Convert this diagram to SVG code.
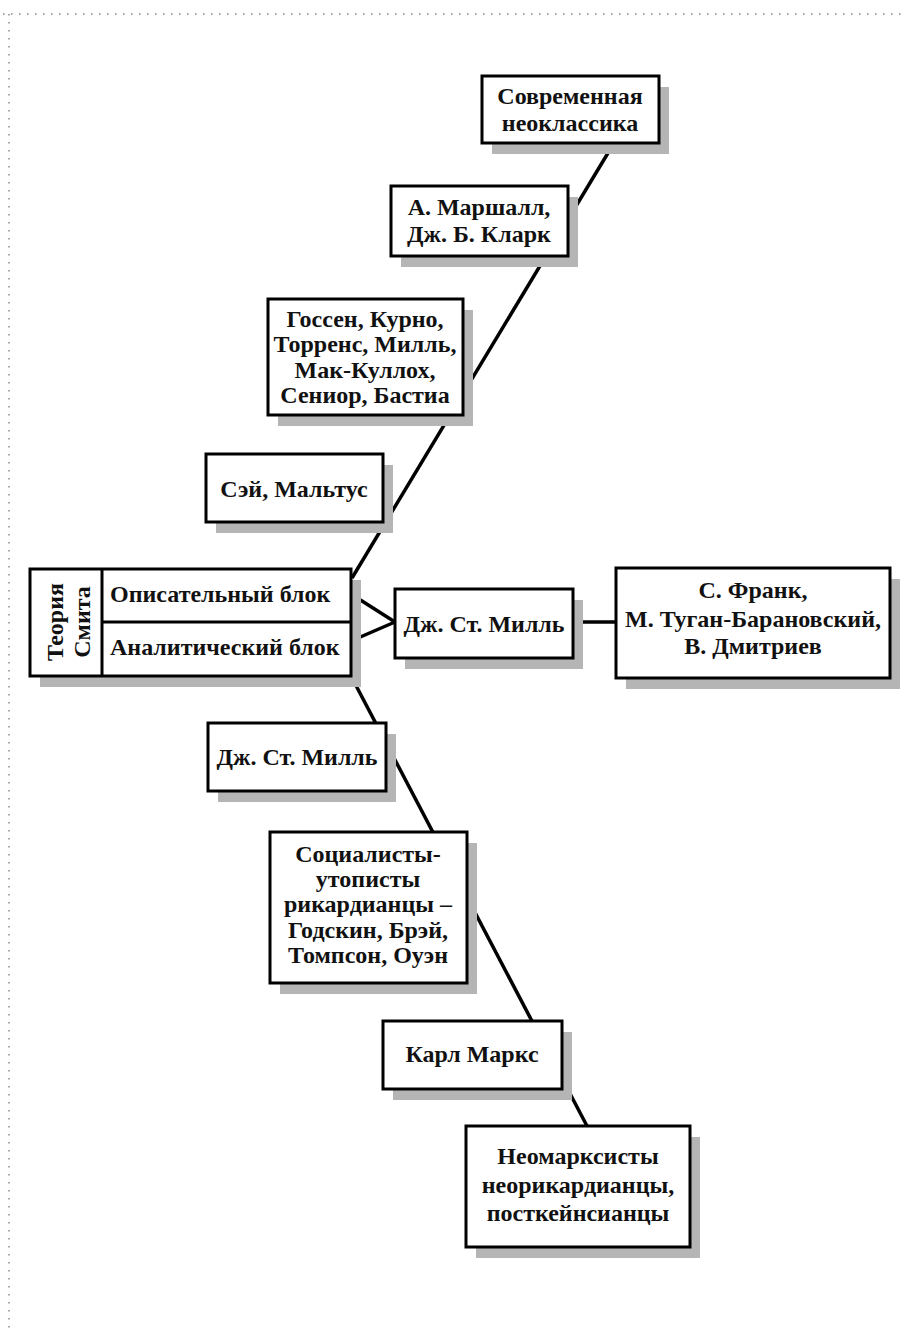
<svg xmlns="http://www.w3.org/2000/svg" width="904" height="1334" viewBox="0 0 904 1334">
<style>
.box{fill:#fff;stroke:#000;stroke-width:3}
.sh{fill:#b5b5b5}
.t{font-family:"Liberation Serif","DejaVu Serif",serif;font-weight:bold;font-size:24px;fill:#111;text-anchor:middle}
.tl{text-anchor:start}
.ln{stroke:#000;stroke-width:3.5;fill:none}
.dot{stroke:#888;stroke-width:1.5;stroke-dasharray:1.5 6.5;fill:none}
</style>
<rect width="904" height="1334" fill="#fff"/>
<g id="frame">
<line class="dot" x1="3" y1="14" x2="904" y2="14"/>
<line class="dot" x1="9" y1="14" x2="9" y2="1334"/>
</g>
<g id="connectors">
<line class="ln" x1="352" y1="578" x2="614" y2="143"/>
<line class="ln" x1="351" y1="676" x2="587" y2="1126"/>
<line class="ln" x1="351" y1="594" x2="395" y2="622"/>
<line class="ln" x1="351" y1="641" x2="395" y2="622"/>
<line class="ln" x1="573" y1="622" x2="616" y2="622"/>
</g>
<g id="n1">
<rect class="sh" x="492" y="87" width="177" height="67"/>
<rect class="box" x="482" y="76" width="177" height="67"/>
<text class="t" x="570" y="104">Современная</text>
<text class="t" x="570" y="131">неоклассика</text>
</g>
<g id="n2">
<rect class="sh" x="401" y="197" width="177" height="70"/>
<rect class="box" x="391" y="186" width="177" height="70"/>
<text class="t" x="479" y="215">А. Маршалл,</text>
<text class="t" x="479" y="242">Дж. Б. Кларк</text>
</g>
<g id="n3">
<rect class="sh" x="278" y="310" width="195" height="116"/>
<rect class="box" x="268" y="299" width="195" height="116"/>
<text class="t" x="365" y="327">Госсен, Курно,</text>
<text class="t" x="365" y="352">Торренс, Милль,</text>
<text class="t" x="365" y="378">Мак-Куллох,</text>
<text class="t" x="365" y="403">Сениор, Бастиа</text>
</g>
<g id="n4">
<rect class="sh" x="216" y="465" width="177" height="68"/>
<rect class="box" x="206" y="454" width="177" height="68"/>
<text class="t" x="294" y="497">Сэй, Мальтус</text>
</g>
<g id="n5">
<rect class="sh" x="40" y="580" width="321" height="107"/>
<rect class="box" x="30" y="569" width="321" height="107"/>
<line class="box" x1="102" y1="569" x2="102" y2="676"/>
<line class="box" x1="102" y1="622" x2="351" y2="622"/>
<text class="t" transform="translate(63,622) rotate(-90)">Теория</text>
<text class="t" transform="translate(90,622) rotate(-90)">Смита</text>
<text class="t tl" x="110" y="602">Описательный блок</text>
<text class="t tl" x="110" y="655">Аналитический блок</text>
</g>
<g id="n6">
<rect class="sh" x="405" y="600" width="178" height="69"/>
<rect class="box" x="395" y="589" width="178" height="69"/>
<text class="t" x="484" y="632">Дж. Ст. Милль</text>
</g>
<g id="n7">
<rect class="sh" x="626" y="579" width="274" height="110"/>
<rect class="box" x="616" y="568" width="274" height="110"/>
<text class="t" x="753" y="598">С. Франк,</text>
<text class="t" x="753" y="627">М. Туган-Барановский,</text>
<text class="t" x="753" y="654">В. Дмитриев</text>
</g>
<g id="n8">
<rect class="sh" x="218" y="734" width="178" height="68"/>
<rect class="box" x="208" y="723" width="178" height="68"/>
<text class="t" x="297" y="765">Дж. Ст. Милль</text>
</g>
<g id="n9">
<rect class="sh" x="280" y="843" width="197" height="151"/>
<rect class="box" x="270" y="832" width="197" height="151"/>
<text class="t" x="368" y="862">Социалисты-</text>
<text class="t" x="368" y="887">утописты</text>
<text class="t" x="368" y="912">рикардианцы –</text>
<text class="t" x="368" y="938">Годскин, Брэй,</text>
<text class="t" x="368" y="963">Томпсон, Оуэн</text>
</g>
<g id="n10">
<rect class="sh" x="393" y="1032" width="179" height="68"/>
<rect class="box" x="383" y="1021" width="179" height="68"/>
<text class="t" x="472" y="1062">Карл Маркс</text>
</g>
<g id="n11">
<rect class="sh" x="476" y="1137" width="224" height="121"/>
<rect class="box" x="466" y="1126" width="224" height="121"/>
<text class="t" x="578" y="1164">Неомарксисты</text>
<text class="t" x="578" y="1193">неорикардианцы,</text>
<text class="t" x="578" y="1221">посткейнсианцы</text>
</g>
</svg>
